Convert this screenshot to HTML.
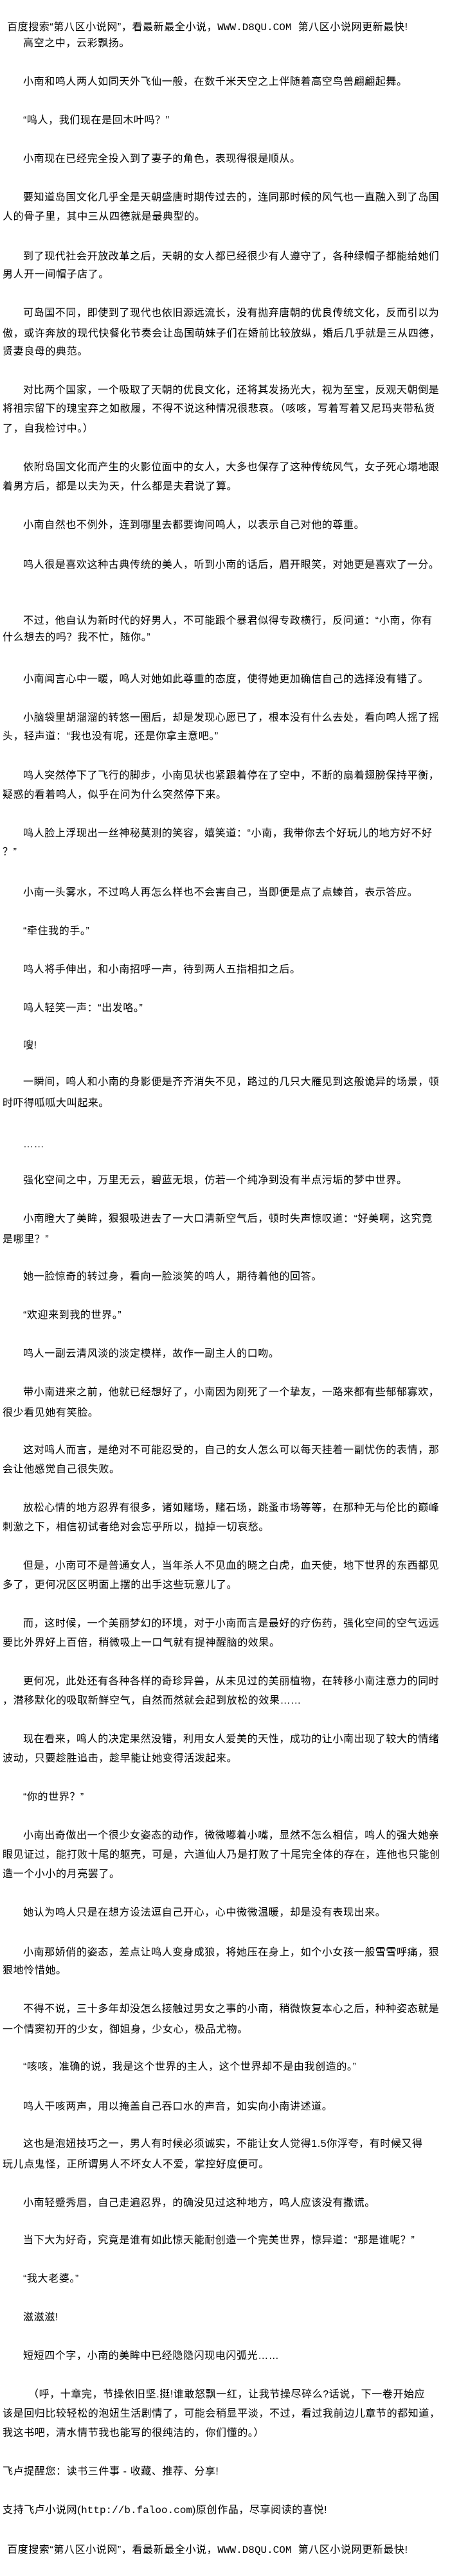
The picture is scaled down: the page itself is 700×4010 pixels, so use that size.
<!DOCTYPE html>
<html><head><meta charset="utf-8"><style>
html,body{margin:0;padding:0;background:#fff;}
body{width:700px;height:4010px;position:relative;overflow:hidden;font-family:"Liberation Sans","Noto Sans CJK SC","WenQuanYi Zen Hei",sans-serif;font-size:16px;letter-spacing:0.6px;color:#000;}
.l{position:absolute;left:4px;height:30px;line-height:30px;white-space:nowrap;}
.i{left:36px;}
.h{left:11px;}
.m{font-family:"Liberation Mono",monospace;letter-spacing:0;}
</style></head><body>
<div class="l h" style="top:28px">百度搜索“第八区小说网”，看最新最全小说，<span class="m">WWW.D8QU.COM</span>&nbsp;&nbsp;第八区小说网更新最快!</div>
<div class="l i" style="top:53px">高空之中，云彩飘扬。</div>
<div class="l i" style="top:113px">小南和鸣人两人如同天外飞仙一般，在数千米天空之上伴随着高空鸟兽翩翩起舞。</div>
<div class="l i" style="top:173px">“鸣人，我们现在是回木叶吗？”</div>
<div class="l i" style="top:233px">小南现在已经完全投入到了妻子的角色，表现得很是顺从。</div>
<div class="l i" style="top:293px">要知道岛国文化几乎全是天朝盛唐时期传过去的，连同那时候的风气也一直融入到了岛国</div>
<div class="l" style="top:323px">人的骨子里，其中三从四德就是最典型的。</div>
<div class="l i" style="top:385px">到了现代社会开放改革之后，天朝的女人都已经很少有人遵守了，各种绿帽子都能给她们</div>
<div class="l" style="top:413px">男人开一间帽子店了。</div>
<div class="l i" style="top:473px">可岛国不同，即使到了现代也依旧源远流长，没有抛弃唐朝的优良传统文化，反而引以为</div>
<div class="l" style="top:505px">傲，或许奔放的现代快餐化节奏会让岛国萌妹子们在婚前比较放纵，婚后几乎就是三从四德，</div>
<div class="l" style="top:533px">贤妻良母的典范。</div>
<div class="l i" style="top:593px">对比两个国家，一个吸取了天朝的优良文化，还将其发扬光大，视为至宝，反观天朝倒是</div>
<div class="l" style="top:622px">将祖宗留下的瑰宝弃之如敝履，不得不说这种情况很悲哀。（咳咳，写着写着又尼玛夹带私货</div>
<div class="l" style="top:653px">了，自我检讨中。）</div>
<div class="l i" style="top:713px">依附岛国文化而产生的火影位面中的女人，大多也保存了这种传统风气，女子死心塌地跟</div>
<div class="l" style="top:743px">着男方后，都是以夫为天，什么都是夫君说了算。</div>
<div class="l i" style="top:803px">小南自然也不例外，连到哪里去都要询问鸣人，以表示自己对他的尊重。</div>
<div class="l i" style="top:865px">鸣人很是喜欢这种古典传统的美人，听到小南的话后，眉开眼笑，对她更是喜欢了一分。</div>
<div class="l i" style="top:952px">不过，他自认为新时代的好男人，不可能跟个暴君似得专政横行，反问道：“小南，你有</div>
<div class="l" style="top:978px">什么想去的吗？我不忙，随你。”</div>
<div class="l i" style="top:1043px">小南闻言心中一暖，鸣人对她如此尊重的态度，使得她更加确信自己的选择没有错了。</div>
<div class="l i" style="top:1103px">小脑袋里胡溜溜的转悠一圈后，却是发现心愿已了，根本没有什么去处，看向鸣人摇了摇</div>
<div class="l" style="top:1132px">头，轻声道：“我也没有呢，还是你拿主意吧。”</div>
<div class="l i" style="top:1193px">鸣人突然停下了飞行的脚步，小南见状也紧跟着停在了空中，不断的扇着翅膀保持平衡，</div>
<div class="l" style="top:1223px">疑惑的看着鸣人，似乎在问为什么突然停下来。</div>
<div class="l i" style="top:1283px">鸣人脸上浮现出一丝神秘莫测的笑容，嬉笑道：“小南，我带你去个好玩儿的地方好不好</div>
<div class="l" style="top:1312px">？”</div>
<div class="l i" style="top:1375px">小南一头雾水，不过鸣人再怎么样也不会害自己，当即便是点了点螓首，表示答应。</div>
<div class="l i" style="top:1435px">“牵住我的手。”</div>
<div class="l i" style="top:1495px">鸣人将手伸出，和小南招呼一声，待到两人五指相扣之后。</div>
<div class="l i" style="top:1555px">鸣人轻笑一声：“出发咯。”</div>
<div class="l i" style="top:1613px">嗖!</div>
<div class="l i" style="top:1670px">一瞬间，鸣人和小南的身影便是齐齐消失不见，路过的几只大雁见到这般诡异的场景，顿</div>
<div class="l" style="top:1703px">时吓得呱呱大叫起来。</div>
<div class="l i" style="top:1767px">……</div>
<div class="l i" style="top:1823px">强化空间之中，万里无云，碧蓝无垠，仿若一个纯净到没有半点污垢的梦中世界。</div>
<div class="l i" style="top:1883px">小南瞪大了美眸，狠狠吸进去了一大口清新空气后，顿时失声惊叹道：“好美啊，这究竟</div>
<div class="l" style="top:1915px">是哪里？”</div>
<div class="l i" style="top:1973px">她一脸惊奇的转过身，看向一脸淡笑的鸣人，期待着他的回答。</div>
<div class="l i" style="top:2033px">“欢迎来到我的世界。”</div>
<div class="l i" style="top:2093px">鸣人一副云清风淡的淡定模样，故作一副主人的口吻。</div>
<div class="l i" style="top:2153px">带小南进来之前，他就已经想好了，小南因为刚死了一个挚友，一路来都有些郁郁寡欢，</div>
<div class="l" style="top:2185px">很少看见她有笑脸。</div>
<div class="l i" style="top:2243px">这对鸣人而言，是绝对不可能忍受的，自己的女人怎么可以每天挂着一副忧伤的表情，那</div>
<div class="l" style="top:2273px">会让他感觉自己很失败。</div>
<div class="l i" style="top:2333px">放松心情的地方忍界有很多，诸如赌场，赌石场，跳蚤市场等等，在那种无与伦比的巅峰</div>
<div class="l" style="top:2363px">刺激之下，相信初试者绝对会忘乎所以，抛掉一切哀愁。</div>
<div class="l i" style="top:2423px">但是，小南可不是普通女人，当年杀人不见血的晓之白虎，血天使，地下世界的东西都见</div>
<div class="l" style="top:2453px">多了，更何况区区明面上摆的出手这些玩意儿了。</div>
<div class="l i" style="top:2513px">而，这时候，一个美丽梦幻的环境，对于小南而言是最好的疗伤药，强化空间的空气远远</div>
<div class="l" style="top:2543px">要比外界好上百倍，稍微吸上一口气就有提神醒脑的效果。</div>
<div class="l i" style="top:2603px">更何况，此处还有各种各样的奇珍异兽，从未见过的美丽植物，在转移小南注意力的同时</div>
<div class="l" style="top:2633px">，潜移默化的吸取新鲜空气，自然而然就会起到放松的效果……</div>
<div class="l i" style="top:2693px">现在看来，鸣人的决定果然没错，利用女人爱美的天性，成功的让小南出现了较大的情绪</div>
<div class="l" style="top:2723px">波动，只要趁胜追击，趁早能让她变得活泼起来。</div>
<div class="l i" style="top:2783px">“你的世界？”</div>
<div class="l i" style="top:2843px">小南出奇做出一个很少女姿态的动作，微微嘟着小嘴，显然不怎么相信，鸣人的强大她亲</div>
<div class="l" style="top:2873px">眼见证过，能打败十尾的躯壳，可是，六道仙人乃是打败了十尾完全体的存在，连他也只能创</div>
<div class="l" style="top:2903px">造一个小小的月亮罢了。</div>
<div class="l i" style="top:2963px">她认为鸣人只是在想方设法逗自己开心，心中微微温暖，却是没有表现出来。</div>
<div class="l i" style="top:3025px">小南那娇俏的姿态，差点让鸣人变身成狼，将她压在身上，如个小女孩一般雪雪呼痛，狠</div>
<div class="l" style="top:3053px">狠地怜惜她。</div>
<div class="l i" style="top:3113px">不得不说，三十多年却没怎么接触过男女之事的小南，稍微恢复本心之后，种种姿态就是</div>
<div class="l" style="top:3145px">一个情窦初开的少女，御姐身，少女心，极品尤物。</div>
<div class="l i" style="top:3203px">“咳咳，准确的说，我是这个世界的主人，这个世界却不是由我创造的。”</div>
<div class="l i" style="top:3265px">鸣人干咳两声，用以掩盖自己吞口水的声音，如实向小南讲述道。</div>
<div class="l i" style="top:3323px">这也是泡妞技巧之一，男人有时候必须诚实，不能让女人觉得1.5你浮夸，有时候又得</div>
<div class="l" style="top:3355px">玩儿点鬼怪，正所谓男人不坏女人不爱，掌控好度便可。</div>
<div class="l i" style="top:3415px">小南轻蹙秀眉，自己走遍忍界，的确没见过这种地方，鸣人应该没有撒谎。</div>
<div class="l i" style="top:3473px">当下大为好奇，究竟是谁有如此惊天能耐创造一个完美世界，惊异道：“那是谁呢？”</div>
<div class="l i" style="top:3533px">“我大老婆。”</div>
<div class="l i" style="top:3593px">滋滋滋!</div>
<div class="l i" style="top:3653px">短短四个字，小南的美眸中已经隐隐闪现电闪弧光……</div>
<div class="l" style="top:3713px;left:44px">（呼，十章完，节操依旧坚.挺!谁敢怒飘一红，让我节操尽碎么?话说，下一卷开始应</div>
<div class="l" style="top:3743px">该是回归比较轻松的泡妞生活剧情了，可能会稍显平淡，不过，看过我前边儿章节的都知道，</div>
<div class="l" style="top:3773px">我这书吧，清水情节我也能写的很纯洁的，你们懂的。）</div>
<div class="l" style="top:3833px">飞卢提醒您：读书三件事 - 收藏、推荐、分享!</div>
<div class="l" style="top:3893px">支持飞卢小说网(<span class="m">http://b.faloo.com</span>)原创作品，尽享阅读的喜悦!</div>
<div class="l h" style="top:3955px">百度搜索“第八区小说网”，看最新最全小说，<span class="m">WWW.D8QU.COM</span>&nbsp;&nbsp;第八区小说网更新最快!</div>
</body></html>
